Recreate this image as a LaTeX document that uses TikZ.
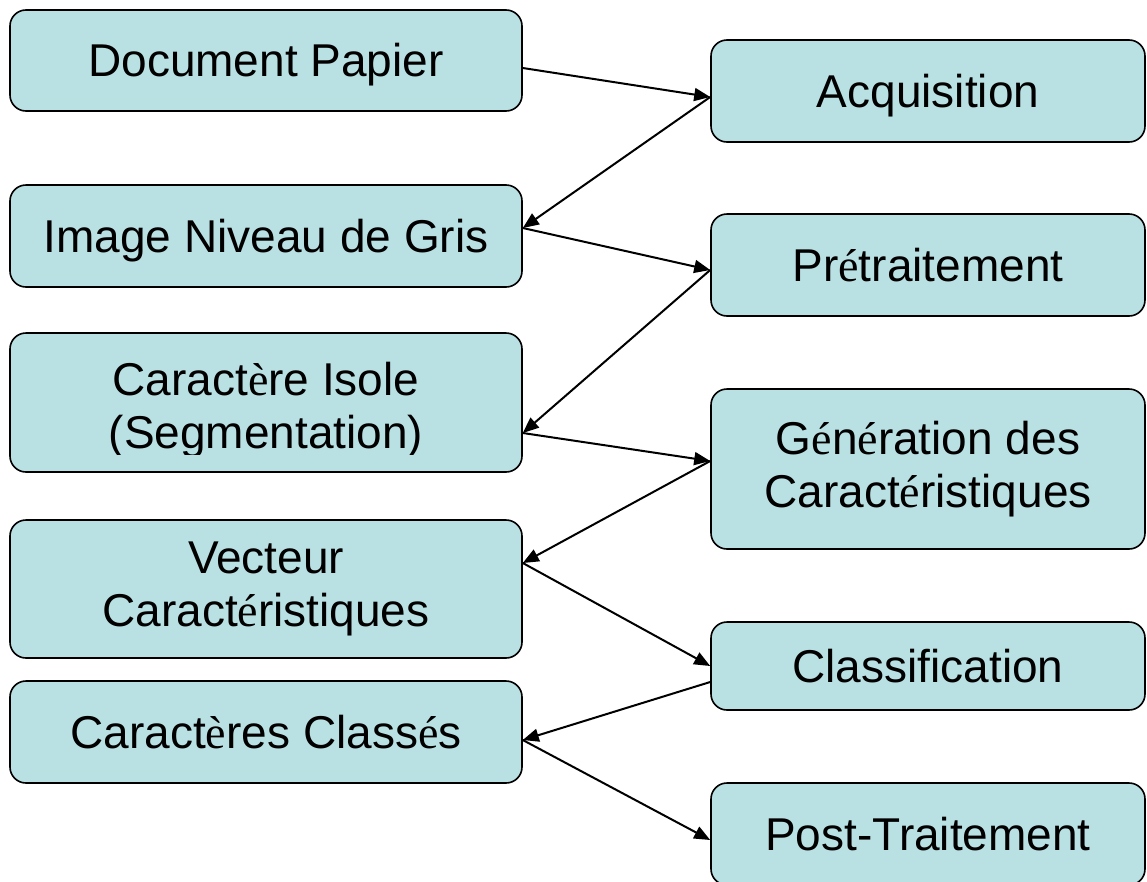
\documentclass[tikz,border=0pt]{standalone}
\usepackage{fontspec}
\setmainfont{Liberation Sans}
\newfontfamily\accfont{Liberation Serif}
\usetikzlibrary{arrows.meta}
\definecolor{boxfill}{RGB}{185,224,227}
\newcommand{\ac}[1]{{\accfont #1}}
\begin{document}
\begin{tikzpicture}[x=1pt,y=-1pt,
  stage/.style={draw=black,line width=1.6pt,fill=boxfill,rounded corners=16pt,
    align=center,inner sep=0pt,font=\fontsize{46}{53}\selectfont},
  oneline/.style={text height=40pt,text depth=8pt},
  leftbox/.style={stage,minimum width=512pt},
  rightbox/.style={stage,minimum width=434pt},
  flow/.style={line width=2pt,-{Triangle[length=16pt,width=13pt]}}]
\path[use as bounding box] (0,0) rectangle (1147,881);
\clip (0,0) rectangle (1147,881);

% left column: data at each step
\node[leftbox,oneline,minimum height=101pt] (dp)  at (266,60.5) {Document Papier};
\node[leftbox,oneline,minimum height=102pt] (ing) at (266,236)  {Image Niveau de Gris};
\node[leftbox,minimum height=139pt] (ci)  at (266,402.5) {};
\node[leftbox,minimum height=138pt] (vc)  at (266,589)  {Vecteur\\Caract\ac{é}ristiques};
\node[leftbox,oneline,minimum height=102pt] (cc)  at (266,732)  {Caract\ac{è}res Class\ac{é}s};

% the segmentation label is cut at the bottom
\begin{scope}
  \clip (10,333) rectangle (522,454);
  \node[align=center,inner sep=0pt,font=\fontsize{46}{53}\selectfont] (citext) at (266,410)
    {Caract\ac{è}re Isole\\(Segmentation)};
\end{scope}

% right column: processing steps
\node[rightbox,oneline,minimum height=102pt] (acq) at (928,91)  {Acquisition};
\node[rightbox,oneline,minimum height=102pt] (pre) at (928,265) {Pr\ac{é}traitement};
\node[rightbox,minimum height=160pt] (gen) at (928,469) {G\ac{é}n\ac{é}ration des\\Caract\ac{é}ristiques};
\node[rightbox,oneline,minimum height=88pt]  (cls) at (928,666) {Classification};
\node[rightbox,oneline,minimum height=102pt] (pt)  at (928,834) {Post-Traitement};

% zig-zag flow between the columns
\draw[flow] ([yshift=-7.5pt]dp.east)  -- ([yshift=-6pt]acq.west);
\draw[flow] ([yshift=-6pt]acq.west)   -- ([yshift=8pt]ing.east);
\draw[flow] ([yshift=8pt]ing.east)    -- ([yshift=-5pt]pre.west);
\draw[flow] ([yshift=-5pt]pre.west)   -- ([yshift=-30.5pt]ci.east);
\draw[flow] ([yshift=-30.5pt]ci.east) -- ([yshift=8pt]gen.west);
\draw[flow] ([yshift=8pt]gen.west)    -- ([yshift=26pt]vc.east);
\draw[flow] ([yshift=26pt]vc.east)    -- (cls.west);
\draw[flow] ([yshift=-16pt]cls.west)  -- ([yshift=-8pt]cc.east);
\draw[flow] ([yshift=-8pt]cc.east)    -- ([yshift=-6pt]pt.west);
\end{tikzpicture}
\end{document}
